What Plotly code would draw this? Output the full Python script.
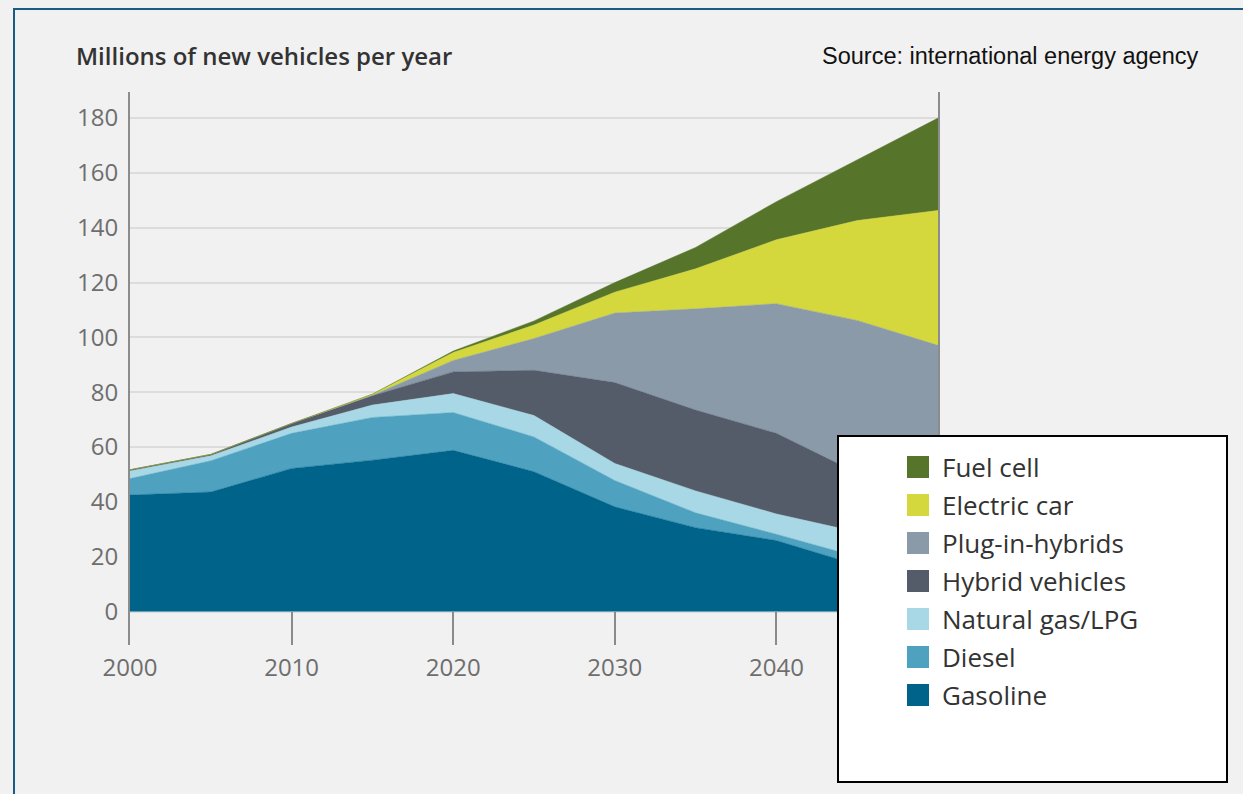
import plotly.graph_objects as go

# New light-duty vehicle sales by technology, millions per year
years = [2000, 2005, 2010, 2015, 2020, 2025, 2030, 2035, 2040, 2045, 2050]

gasoline = [42.5, 43.6, 52.2, 55.2, 58.8, 51.0, 38.2, 30.6, 25.9, 17.0, 12.0]
diesel = [6.0, 11.4, 12.8, 15.6, 13.8, 12.7, 9.6, 5.4, 2.3, 3.0, 2.0]
natural_gas = [2.8, 1.8, 2.3, 4.5, 6.9, 7.8, 6.2, 8.0, 7.4, 9.0, 7.0]
hybrid = [0.4, 0.5, 1.3, 3.4, 7.9, 16.5, 29.5, 29.5, 29.4, 21.5, 17.0]
plug_in = [0.0, 0.0, 0.0, 0.2, 4.2, 11.6, 25.4, 36.9, 47.3, 55.7, 59.1]
electric = [0.0, 0.0, 0.0, 0.4, 2.9, 4.9, 7.6, 14.6, 23.3, 36.4, 49.2]
fuel_cell = [0.0, 0.0, 0.0, 0.0, 0.5, 1.5, 3.5, 7.8, 13.9, 22.1, 33.7]

series_names = ["Gasoline", "Diesel", "Natural gas/LPG", "Hybrid vehicles",
                "Plug-in-hybrids", "Electric car", "Fuel cell"]
series_values = [gasoline, diesel, natural_gas, hybrid, plug_in, electric, fuel_cell]
series_colors = ["#00638a", "#4ea2c0", "#a8d8e5", "#535c68",
                 "#8a9aa9", "#d5d83c", "#56752b"]

y_ticks = [0, 20, 40, 60, 80, 100, 120, 140, 160, 180]
x_ticks = [2000, 2010, 2020, 2030, 2040]

title_text = "Millions of new vehicles per year"
source_text = "Source: international energy agency"

W, H = 1243, 794
L, R, T, B = 130, W - 938, 92, H - 645
PW, PH = W - L - R, H - T - B


def px(x):
    return (x - L) / PW


def py(y):
    return (H - B - y) / PH


label_font = "Open Sans, DejaVu Sans, sans-serif"

fig = go.Figure()
for name, vals, col in zip(series_names, series_values, series_colors):
    fig.add_trace(go.Scatter(
        x=years, y=vals, name=name, stackgroup="vehicles", mode="lines",
        line=dict(width=0.5, color=col), fillcolor=col, showlegend=False,
    ))

shapes = [
    # outer frame
    dict(type="rect", xref="paper", yref="paper", x0=px(14), x1=px(1270),
         y0=py(830), y1=py(9), line=dict(color="#1b5a84", width=2),
         fillcolor="rgba(0,0,0,0)", layer="above"),
    # legend panel
    dict(type="rect", xref="paper", yref="paper", x0=px(838), x1=px(1227),
         y0=py(782), y1=py(436), line=dict(color="#000000", width=2),
         fillcolor="#ffffff", layer="above"),
]
annotations = [
    dict(text=title_text, xref="paper", yref="paper", x=px(74), y=py(55),
         xanchor="left", yanchor="middle", showarrow=False,
         font=dict(family=label_font, size=24, color="#333333", weight=600)),
    dict(text=source_text, xref="paper", yref="paper", x=px(820), y=py(56),
         xanchor="left", yanchor="middle", showarrow=False,
         font=dict(family="Liberation Sans, Arial, sans-serif", size=23.5, color="#111111")),
]

row_top = 467
row_gap = 38
for i, (name, col) in enumerate(zip(series_names[::-1], series_colors[::-1])):
    cy = row_top + i * row_gap
    shapes.append(dict(type="rect", xref="paper", yref="paper",
                       x0=px(907), x1=px(929), y0=py(cy + 11), y1=py(cy - 11),
                       line=dict(width=0), fillcolor=col, layer="above"))
    annotations.append(dict(text=name, xref="paper", yref="paper",
                            x=px(940), y=py(cy), xanchor="left", yanchor="middle",
                            showarrow=False,
                            font=dict(family=label_font, size=26, color="#333333")))

fig.update_layout(
    width=W, height=H,
    margin=dict(l=L, r=R, t=T, b=B, pad=0),
    paper_bgcolor="#f1f1f1", plot_bgcolor="#f1f1f1",
    shapes=shapes, annotations=annotations,
    showlegend=False,
)
fig.update_xaxes(
    range=[2000, 2050], tickvals=x_ticks, ticktext=[str(v) for v in x_ticks],
    showgrid=False, zeroline=False, showline=False,
    ticks="inside", ticklen=33, tickwidth=2, tickcolor="#8a8a8a",
    ticklabelstandoff=6,
    tickfont=dict(family=label_font, size=24, color="#6e6e6e"),
)
fig.update_yaxes(
    range=[-12.2, 189.5], tickvals=y_ticks, ticktext=[str(v) for v in y_ticks],
    showgrid=True, gridcolor="#dcdcdc", gridwidth=1.5, zeroline=False,
    showline=True, linecolor="#8c8c8c", linewidth=2, mirror=True,
    ticks="", ticklabelstandoff=5,
    tickfont=dict(family=label_font, size=24, color="#6e6e6e"),
)

fig.write_html("out.html")
